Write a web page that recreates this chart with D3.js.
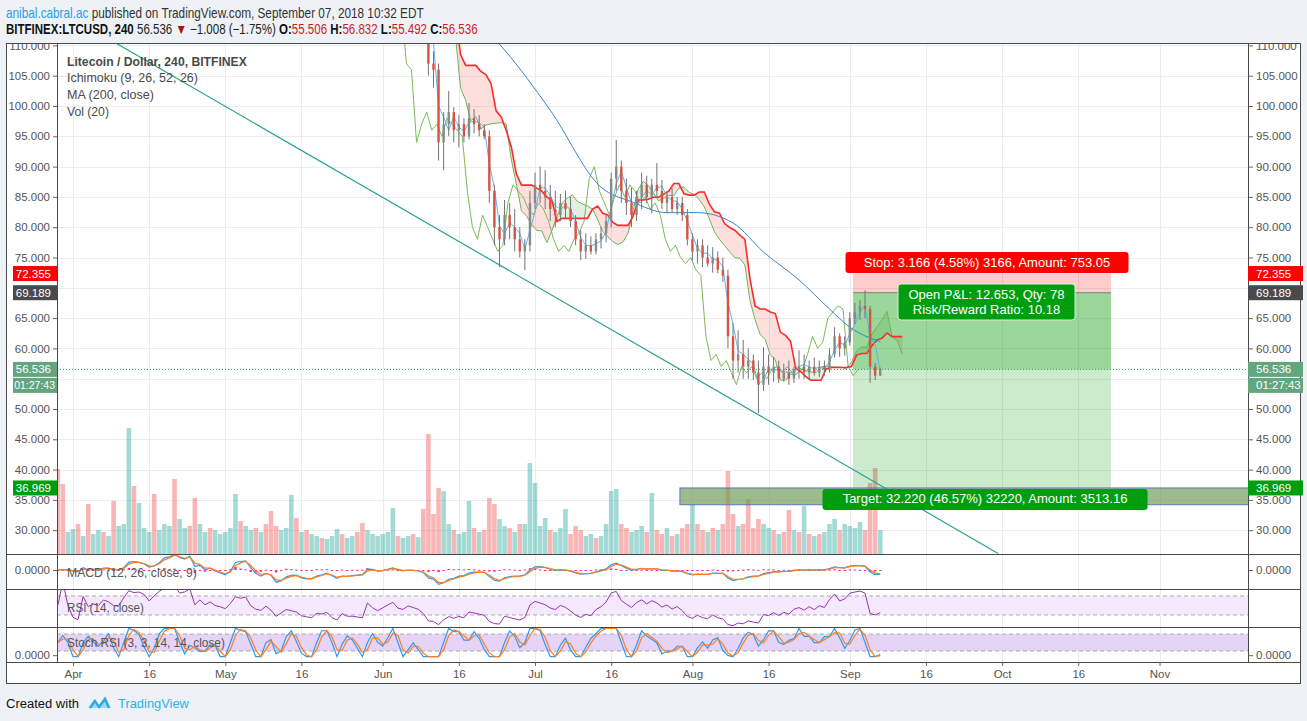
<!DOCTYPE html>
<html><head><meta charset="utf-8">
<script src="https://cdn.jsdelivr.net/npm/d3@7"></script>
<style>
html,body{margin:0;padding:0;background:#eef2f6;}
svg{display:block;font-family:"Liberation Sans",Arial,sans-serif;}
</style></head><body>
<svg id="c" width="1307" height="721"></svg>
<script>
// ---------------- DATA ----------------
// daily closes before the visible candles (price above the chart top), Mar 29 – May 31
const earlyStart = "2018-03-29";
const earlyClose = [116,117,116,
 114,113,121,115,117,116,120,119,117,117,122,132,131,132,131,128,133,140,149,151,160,155,158,168,150,160,152,158,152,150,
 147,154,168,166,169,158,152,150,155,149,135,139,143,141,139,132,130,128,131,130,131,124,119,123,119,119,118,117,126,122,119];
// daily candles Jun 1 – Sep 7
const ohlcStart = "2018-06-01";
const high = [124,124,127,126,122,123,124,122,121,118,109,107,99,102.5,99.8,98.5,98,100.5,99.5,98.5,97,96,87,82,84.5,84,83,80,78,86,
 89,90,89.4,87,86,85.5,86,85,82,79.5,79,78.5,79,80,82,89,94.4,91,88,86.5,86,89,88.5,88,90.6,87.8,86,86.5,85,85,83,
 79,78,78,77,76.7,76,75,73,64.2,63,61.4,60,59,58,60.2,59,58.6,58,57.5,58,57,59.7,59,58,58.5,58,58,60,63.5,62.5,62,
 66,67.5,68,69.6,67,57.6,56.832];
const low = [118,120,122,119,118,119,119,118,114,105,103,91,89.4,95,94,93.2,94,94.5,95.5,95,94.5,84,77,73.4,77,78,76,75,72.9,76,
 83,84,83,81,80,81,81.5,80,77,74.6,74.8,75.5,75.5,76.5,77.5,80,86,84,82,80,81,83,84,82.3,85,83,82.3,82.5,82,81,77,
 74.5,74,73.4,73.5,72.5,72.4,71,60,55,56,55,55,54.8,49.3,53,54,54.5,54.3,54.5,54,54.3,55,55,54.8,55.5,55.3,55.5,56,58.5,58.6,58.8,
 60.5,64,64.7,65,54.3,54.8,55.492];
const close = [121,123,125,121,120,122,121,120,117,107,106,94,97,99,96,97,95,98,97,96,95,86,80,78,82,80,78,76,77,84,
 87,86,85,83,82,84,83,81,78,76,77,76,78,79,81,88,90,86,84,82,85,87,85,87,86,84,85,83,84,82,78,
 76,77,75,74,75,73,72,62,58,59,57,58,56,54,57,56,57,55,56,55,56.5,57,56,57,56,57,56.5,59,62,60,61,
 65,66,67,66.5,57,55.506,56.536];
// daily volume Mar 29 – Sep 7 (negative = down day)
const volStart = "2018-03-29";
const volume = [-85,-70,22,
 25,-30,18,-50,20,24,-22,18,-53,28,30,126,-68,51,26,22,-60,24,30,28,-75,35,26,-28,-56,30,22,-26,24,20,
 22,26,60,-33,28,24,-26,22,-30,-43,-28,24,26,59,-36,22,-24,20,18,-16,15,18,25,-20,16,18,-22,-31,24,20,18,
 20,22,46,-18,16,18,-20,17,-45,-120,-40,-66,63,30,-24,20,22,53,-26,22,-24,-56,-50,35,28,-26,22,-30,30,91,
 71,28,36,-24,22,26,45,-20,-28,-24,18,20,-16,18,30,63,65,-30,-26,22,24,28,-22,61,-24,-20,26,-18,20,-26,-30,
 50,-30,-24,22,-26,24,-30,-83,-40,28,-30,-55,-26,-35,30,26,-24,20,-22,-44,24,-22,48,-20,18,-20,22,30,35,-24,30,
 28,26,32,-24,-71,-86,24];
// MA (200, close)
const maDates = ["2018-06-14","2018-06-24","2018-07-04","2018-07-14","2018-07-20","2018-07-27","2018-08-02","2018-08-09","2018-08-15","2018-08-22","2018-08-28","2018-09-01","2018-09-07"];
const maValues = [118,110.2,99.3,86.6,84.2,82.4,82.4,80.7,75.9,71.3,66.5,63.5,61.1];
// axis ticks (55 and 70 are hidden behind the price tags)
const gridTicks = [30,35,40,45,50,55,60,65,70,75,80,85,90,95,100,105,110];
const priceTicks = [30,35,40,45,50,60,65,75,80,85,90,95,100,105,110];
const dateTicks = ["2018-04-01","2018-04-16","2018-05-01","2018-05-16","2018-06-01","2018-06-16","2018-07-01","2018-07-16","2018-08-01","2018-08-16","2018-09-01","2018-09-16","2018-10-01","2018-10-16","2018-11-01"];
const dateTickLabels = ["Apr","16","May","16","Jun","16","Jul","16","Aug","16","Sep","16","Oct","16","Nov"];
// drawings
const trendStart = {date:"2018-04-09T16:00Z", value:110.28};
const trendEnd = {date:"2018-09-30T05:00Z", value:26.17};
const stopPrice = 72.355, entryPrice = 69.189, lastPrice = 56.536, targetPrice = 36.969;
const posStart = "2018-09-01T15:00Z", posEnd = "2018-10-22T11:00Z";
const rectStart = "2018-07-29T13:00Z", rectEnd = "2018-12-15", rectTop = 36.969, rectBottom = 34.2;
const stopText = "Stop: 3.166 (4.58%) 3166, Amount: 753.05";
const pnlText = ["Open P&L: 12.653, Qty: 78","Risk/Reward Ratio: 10.18"];
const targetText = "Target: 32.220 (46.57%) 32220, Amount: 3513.16";
const countdown = "01:27:43";
const legendLines = ["Litecoin / Dollar, 240, BITFINEX","Ichimoku (9, 26, 52, 26)","MA (200, close)","Vol (20)"];
// indicator periods converted from 4h bars to daily bars
const P = {conv:2, base:4, spanB:9, shiftH:104, rsi:6, stochRsi:4, stoch:4, k:2, d:2, fast:3, slow:6, signal:2};

// ---------------- SETUP ----------------
const svg = d3.select("#c");
const PL = 57, PR = 1248;
const pane = {main:[44,554], macd:[554,589], rsi:[589,627], stoch:[627,662]};
const x = d3.scaleUtc().domain([new Date("2018-04-01"), new Date("2018-11-01")]).range([73, 1159.5]);
const y = d3.scaleLinear().domain([50,110]).range([409,45.4]);
const yVol = d3.scaleLinear().domain([0,130]).range([554,424]);
const day = (s,i)=>d3.utcDay.offset(new Date(s), i);

const defs = svg.append("defs");
Object.entries(pane).forEach(([k,[t,b]])=>{
  defs.append("clipPath").attr("id","clip-"+k).append("rect").attr("x",PL).attr("y",t).attr("width",PR-PL).attr("height",b-t);
});
defs.append("clipPath").attr("id","clip-axis").append("rect").attr("x",0).attr("y",44).attr("width",1307).attr("height",618);

svg.append("rect").attr("x",6).attr("y",43).attr("width",1295).attr("height",641).attr("fill","#fff");

// grids
const grid = svg.append("g").attr("stroke","#ececec").attr("stroke-width",1);
dateTicks.forEach(d=>{
  const xx = Math.round(x(new Date(d)))+0.5;
  grid.append("line").attr("x1",xx).attr("x2",xx).attr("y1",44).attr("y2",662);
});
gridTicks.forEach(v=>{
  const yy = Math.round(y(v))+0.5;
  grid.append("line").attr("x1",PL).attr("x2",PR).attr("y1",yy).attr("y2",yy);
});

// ---------------- MAIN PANE ----------------
const gm = svg.append("g").attr("clip-path","url(#clip-main)");

// volume
gm.append("g").selectAll("rect").data(volume).join("rect")
  .attr("x",(v,i)=>x(day(volStart,i))-2.3).attr("width",4.6)
  .attr("y",v=>yVol(Math.abs(v))).attr("height",v=>554-yVol(Math.abs(v)))
  .attr("fill",v=>v<0?"rgba(239,83,80,0.42)":"rgba(38,166,154,0.42)");

const allClose = earlyClose.concat(close);
const allHigh = earlyClose.concat(high);
const allLow = earlyClose.concat(low);
const allDates = allClose.map((_,i)=>day(earlyStart,i));
const mid = (n,i)=>{const s=Math.max(0,i-n+1);return (d3.max(allHigh.slice(s,i+1))+d3.min(allLow.slice(s,i+1)))/2;};
const ichi = allClose.map((c,i)=>{
  const conv = mid(P.conv,i), base = mid(P.base,i);
  return {date:allDates[i], fwd:d3.utcHour.offset(allDates[i],P.shiftH), back:d3.utcHour.offset(allDates[i],-P.shiftH),
    conv, a:(conv+base)/2, b:mid(P.spanB,i), c};
}).filter((d,i)=>i>=P.spanB-1);

// cloud
gm.append("path").datum(ichi).attr("fill","rgba(67,160,71,0.16)")
  .attr("d",d3.area().x(d=>x(d.fwd)).y0(d=>y(d.b)).y1(d=>y(Math.max(d.a,d.b))));
gm.append("path").datum(ichi).attr("fill","rgba(244,67,54,0.17)")
  .attr("d",d3.area().x(d=>x(d.fwd)).y0(d=>y(d.b)).y1(d=>y(Math.min(d.a,d.b))));

// position zones
const px0 = x(new Date(posStart)), px1 = x(new Date(posEnd));
gm.append("rect").attr("x",px0).attr("width",px1-px0).attr("y",y(stopPrice)).attr("height",y(entryPrice)-y(stopPrice)).attr("fill","rgba(255,0,0,0.2)");
gm.append("rect").attr("x",px0).attr("width",px1-px0).attr("y",y(entryPrice)).attr("height",y(targetPrice)-y(entryPrice)).attr("fill","rgba(0,150,0,0.2)");
gm.append("rect").attr("x",px0).attr("width",px1-px0).attr("y",y(entryPrice)).attr("height",y(lastPrice)-y(entryPrice)).attr("fill","rgba(0,150,0,0.24)");

// lines
gm.append("path").datum(ichi).attr("fill","none").attr("stroke","#7cb95c").attr("stroke-width",1)
  .attr("d",d3.line().x(d=>x(d.back)).y(d=>y(d.c)));
gm.append("path").datum(ichi).attr("fill","none").attr("stroke","#6db35a").attr("stroke-width",1)
  .attr("d",d3.line().x(d=>x(d.fwd)).y(d=>y(d.a)));
gm.append("path").datum(ichi).attr("fill","none").attr("stroke","#ff2a2a").attr("stroke-width",1.6)
  .attr("d",d3.line().x(d=>x(d.fwd)).y(d=>y(d.b)));
gm.append("path").datum(ichi).attr("fill","none").attr("stroke","#5db4f2").attr("stroke-width",1)
  .attr("d",d3.line().x(d=>x(d.date)).y(d=>y(d.conv)));
gm.append("path").datum(maDates.map((d,i)=>({d:new Date(d),v:maValues[i]}))).attr("fill","none")
  .attr("stroke","#3f84c4").attr("stroke-width",1)
  .attr("d",d3.line().curve(d3.curveMonotoneX).x(d=>x(d.d)).y(d=>y(d.v)));

// candles
const candles = close.map((c,i)=>({date:day(ohlcStart,i), o: i===0?earlyClose[earlyClose.length-1]:close[i-1], h:high[i], l:low[i], c}));
const cg = gm.append("g");
cg.selectAll("line").data(candles).join("line")
  .attr("x1",d=>x(d.date)).attr("x2",d=>x(d.date)).attr("y1",d=>y(d.h)).attr("y2",d=>y(d.l))
  .attr("stroke","#737375").attr("stroke-width",1);
cg.selectAll("rect").data(candles).join("rect")
  .attr("x",d=>x(d.date)-1.2).attr("width",2.4)
  .attr("y",d=>y(Math.max(d.o,d.c))).attr("height",d=>Math.max(1,Math.abs(y(d.o)-y(d.c))))
  .attr("fill",d=>d.c>=d.o?"#858b88":"#d75442");

gm.append("line").attr("x1",px0).attr("x2",px1).attr("y1",y(entryPrice)).attr("y2",y(entryPrice)).attr("stroke","#808080");
gm.append("line").attr("x1",PL).attr("x2",PR).attr("y1",y(lastPrice)).attr("y2",y(lastPrice))
  .attr("stroke","#3f9a5e").attr("stroke-dasharray","1,2");

// rectangle drawing
const rx0 = x(new Date(rectStart)), rx1 = x(new Date(rectEnd));
gm.append("rect").attr("x",rx0).attr("width",rx1-rx0).attr("y",y(rectTop)).attr("height",y(rectBottom)-y(rectTop))
  .attr("fill","rgba(104,150,80,0.65)").attr("stroke","#5a78b8").attr("stroke-width",1);

// trend line
gm.append("line").attr("x1",x(new Date(trendStart.date))).attr("y1",y(trendStart.value))
  .attr("x2",x(new Date(trendEnd.date))).attr("y2",y(trendEnd.value))
  .attr("stroke","#2ba58b").attr("stroke-width",1.2);

// position labels
function boxLabel(lines, cx, top, fill, size, targetW){
  const g = svg.append("g");
  const lh = size+2;
  const h = lines.length*lh+6;
  const r = g.append("rect").attr("y",top).attr("height",h).attr("rx",3).attr("fill",fill);
  let maxW = 0;
  lines.forEach((t,i)=>{
    const tx = g.append("text").attr("x",cx).attr("y",top+3+lh*(i+1)-3.5).attr("text-anchor","middle")
      .attr("fill","#fff").attr("font-size",size).text(t);
    maxW = Math.max(maxW, tx.node().getComputedTextLength());
  });
  const w = targetW || maxW+24;
  r.attr("x",cx-w/2).attr("width",w);
  return g;
}
const pcx = (px0+px1)/2;
boxLabel([stopText], pcx+5, y(stopPrice)-21.5, "#ff0000", 13, 283);
boxLabel(pnlText, pcx+4.5, y(entryPrice)-8.7, "#009e0f", 13, 177).select("rect").attr("stroke","#d6f0d6").attr("stroke-width",1);
boxLabel([targetText], pcx+3, y(targetPrice)+1, "#009e0f", 13, 325);

// ---------------- INDICATORS ----------------
function ema(a,n){const k=2/(n+1);let p=a[0];return a.map((v,i)=>(p=i?v*k+p*(1-k):v));}
function sma(a,n){return a.map((v,i)=>d3.mean(a.slice(Math.max(0,i-n+1),i+1)));}
function rsi(a,n){let ag=0,al=0;return a.map((v,i)=>{if(!i)return 50;const ch=v-a[i-1];const g=Math.max(ch,0),l=Math.max(-ch,0);
  if(i<=n){ag+=g/n;al+=l/n;}else{ag=(ag*(n-1)+g)/n;al=(al*(n-1)+l)/n;}return al===0?100:100-100/(1+ag/al);});}

// MACD
const fast = ema(allClose,P.fast), slow = ema(allClose,P.slow);
const macd = fast.map((v,i)=>v-slow[i]);
const signal = ema(macd,P.signal);
const hist = macd.map((v,i)=>v-signal[i]);
const mMax = d3.max(macd.concat(signal).map(Math.abs))*1.05;
const yM = d3.scaleLinear().domain([-mMax,mMax]).range([587,553]);
const gMacd = svg.append("g").attr("clip-path","url(#clip-macd)");
gMacd.selectAll("rect").data(hist).join("rect")
  .attr("x",(v,i)=>x(allDates[i])-1.2).attr("width",2.4)
  .attr("y",v=>Math.min(yM(v),yM(0))).attr("height",v=>Math.max(1,Math.abs(yM(v)-yM(0))))
  .attr("fill","#ff2d78");
gMacd.append("path").datum(macd).attr("fill","none").attr("stroke","#2d9bf0").attr("stroke-width",1.2)
  .attr("d",d3.line().x((v,i)=>x(allDates[i])).y(v=>yM(v)));
gMacd.append("path").datum(signal).attr("fill","none").attr("stroke","#ff7f1e").attr("stroke-width",1.2)
  .attr("d",d3.line().x((v,i)=>x(allDates[i])).y(v=>yM(v)));

// RSI
const yR = d3.scaleLinear().domain([4.7,84.7]).range([627,589]);
const gRsi = svg.append("g").attr("clip-path","url(#clip-rsi)");
gRsi.append("rect").attr("x",PL).attr("width",PR-PL).attr("y",yR(70)).attr("height",yR(30)-yR(70)).attr("fill","#f4e9fd");
[70,30].forEach(v=>gRsi.append("line").attr("x1",PL).attr("x2",PR).attr("y1",yR(v)).attr("y2",yR(v))
  .attr("stroke","#aaa").attr("stroke-dasharray","4,3"));
const rsiV = rsi(allClose,P.rsi);
gRsi.append("path").datum(rsiV).attr("fill","none").attr("stroke","#9b30b5").attr("stroke-width",1)
  .attr("d",d3.line().x((v,i)=>x(allDates[i])).y(v=>yR(v)));

// Stoch RSI
const yS = d3.scaleLinear().domain([0,100]).range([656.7,628.4]);
const gSt = svg.append("g").attr("clip-path","url(#clip-stoch)");
gSt.append("rect").attr("x",PL).attr("width",PR-PL).attr("y",yS(80)).attr("height",yS(20)-yS(80)).attr("fill","#e6d3f8");
[80,20].forEach(v=>gSt.append("line").attr("x1",PL).attr("x2",PR).attr("y1",yS(v)).attr("y2",yS(v))
  .attr("stroke","#aaa").attr("stroke-dasharray","4,3"));
const rsiS = rsi(allClose,P.stochRsi);
const rawSt = rsiS.map((v,i)=>{const w=rsiS.slice(Math.max(0,i-P.stoch+1),i+1);const lo=d3.min(w),hi=d3.max(w);return hi===lo?50:(v-lo)/(hi-lo)*100;});
const kS = sma(rawSt,P.k), dS = sma(kS,P.d);
gSt.append("path").datum(kS).attr("fill","none").attr("stroke","#2d9bf0").attr("stroke-width",1.2)
  .attr("d",d3.line().x((v,i)=>x(allDates[i])).y(v=>yS(v)));
gSt.append("path").datum(dS).attr("fill","none").attr("stroke","#ff7f1e").attr("stroke-width",1.2)
  .attr("d",d3.line().x((v,i)=>x(allDates[i])).y(v=>yS(v)));

// ---------------- FRAME & AXES ----------------
const fr = svg.append("g").attr("stroke","#4a4a4a").attr("stroke-width",1).attr("fill","none");
fr.append("rect").attr("x",6.5).attr("y",43.5).attr("width",1294).attr("height",640);
[554,589,627,662].forEach(v=>fr.append("line").attr("x1",6).attr("x2",1301).attr("y1",v+0.5).attr("y2",v+0.5));
[PL,PR].forEach(v=>fr.append("line").attr("x1",v+0.5).attr("x2",v+0.5).attr("y1",43).attr("y2",662));

const axFmt = d3.format(".3f");
const axG = svg.append("g").attr("clip-path","url(#clip-axis)");
function styleAxis(g){g.select(".domain").remove();g.selectAll("line").attr("stroke","#666");
  g.selectAll("text").attr("fill","#555").attr("font-size",11.5).attr("font-family","Liberation Sans, Arial, sans-serif");}
axG.append("g").attr("transform",`translate(${PL},0)`).call(d3.axisLeft(y).tickValues(priceTicks).tickFormat(axFmt).tickSize(4).tickPadding(3)).call(styleAxis);
axG.append("g").attr("transform",`translate(${PR+1},0)`).call(d3.axisRight(y).tickValues(priceTicks).tickFormat(axFmt).tickSize(4).tickPadding(3)).call(styleAxis);
[yM(0), yS(0)-1.5].forEach(yy=>{
  axG.append("g").attr("transform",`translate(${PL},0)`).call(d3.axisLeft(d3.scaleIdentity().domain([0,1000])).tickValues([yy]).tickFormat(()=>"0.0000").tickSize(4).tickPadding(3)).call(styleAxis);
  axG.append("g").attr("transform",`translate(${PR+1},0)`).call(d3.axisRight(d3.scaleIdentity().domain([0,1000])).tickValues([yy]).tickFormat(()=>"0.0000").tickSize(4).tickPadding(3)).call(styleAxis);
});
svg.append("g").attr("transform","translate(0,662)")
  .call(d3.axisBottom(x).tickValues(dateTicks.map(d=>new Date(d))).tickFormat((d,i)=>dateTickLabels[i]).tickSize(4).tickPadding(4))
  .call(styleAxis);

// price labels on axes
function priceTag(v, txt, fill, dy, fs){
  const yy = y(v)+(dy||0);
  [[13,57,55,"end"],[1248,1303,1256,"start"]].forEach(([a,b,tx,anc])=>{
    svg.append("rect").attr("x",a).attr("width",b-a).attr("y",yy-7.5).attr("height",15).attr("fill",fill);
    svg.append("text").attr("x",anc==="end"?(fs?tx:51):tx).attr("y",yy+4).attr("text-anchor",anc).attr("fill","#fff")
      .attr("font-size",anc==="end"&&fs?fs:11.5).text(txt);
  });
}
priceTag(stopPrice, axFmt(stopPrice), "#ff0000");
priceTag(entryPrice, axFmt(entryPrice), "#4a4a4a");
priceTag(lastPrice, axFmt(lastPrice), "#63a57d");
priceTag(lastPrice, countdown, "#63a57d", 16, 10.5);
priceTag(targetPrice, axFmt(targetPrice), "#009e0f");

// ---------------- TEXT ----------------
function fitText(x0, yb, parts, width, size){
  const g = svg.append("g").attr("transform",`translate(${x0},${yb})`);
  const t = g.append("text").attr("x",0).attr("y",0).attr("font-size",size);
  parts.forEach(p=>t.append("tspan").attr("fill",p.fill||"#333").attr("font-weight",p.bold?"bold":"normal").text(p.t));
  const L = t.node().getComputedTextLength();
  if (width) g.attr("transform",`translate(${x0},${yb}) scale(${width/L},1)`);
  return g;
}
const RED = "#cc1d1d";
fitText(6,17.5,[{t:"anibal.cabral.ac",fill:"#2a9de6"},{t:" published on TradingView.com, September 07, 2018 10:32 EDT",fill:"#333"}],418,14);
fitText(6,34,[{t:"BITFINEX:LTCUSD, 240",bold:true,fill:"#111"},{t:" 56.536 ",fill:"#222"},{t:"▼",fill:"#b01010"},{t:" −1.008 (−1.75%) ",fill:"#222"},
  {t:"O:",bold:true,fill:"#111"},{t:"55.506 ",fill:RED},{t:"H:",bold:true,fill:"#111"},{t:"56.832 ",fill:RED},
  {t:"L:",bold:true,fill:"#111"},{t:"55.492 ",fill:RED},{t:"C:",bold:true,fill:"#111"},{t:"56.536",fill:RED}],472,14);

const legW = [180,131,87,42];
legendLines.forEach((t,i)=>fitText(67,[65.5,82,99,116][i],[{t,bold:i===0,fill:"#4a4a4a"}],legW[i],13.5));
fitText(67,576.5,[{t:"MACD (12, 26, close, 9)",fill:"#555"}],130,13.5);
fitText(67,611.5,[{t:"RSI (14, close)",fill:"#555"}],77,13.5);
fitText(67,647,[{t:"Stoch RSI (3, 3, 14, 14, close)",fill:"#555"}],158,13.5);

// footer
fitText(6,708,[{t:"Created with",fill:"#111"}],73,13.5);
const logo = svg.append("g").attr("transform","translate(88,694)");
logo.append("path").attr("d","M0,14 L6,5 L11,11 L17,2 L23,14 Z").attr("fill","#9ad7f2");
logo.append("path").attr("d","M2,14 L7,7 L11,13 L17,5 L21,14").attr("fill","none").attr("stroke","#29a9e0").attr("stroke-width",2.2);
fitText(118,708,[{t:"TradingView",fill:"#33aee6"}],71,13.5);
</script>
</body></html>
